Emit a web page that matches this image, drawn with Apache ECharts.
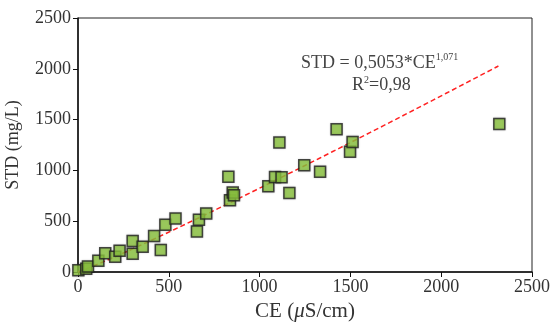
<!DOCTYPE html>
<html>
<head>
<meta charset="utf-8">
<script src="https://cdn.jsdelivr.net/npm/echarts@6/dist/echarts.min.js"></script>
<style>
  html, body { margin: 0; padding: 0; background: #fff; }
  #chart { width: 551px; height: 322px; }
</style>
</head>
<body>
<div id="chart"></div>
<script>
var ce = [2, 45, 55, 112, 150, 205, 229, 301, 301, 356, 419, 456, 481, 537, 655, 666, 706,
          828, 837, 852, 859, 1048, 1085, 1121, 1109, 1164, 1246, 1333, 1424, 1498, 1512, 2320];
var std = [18, 32, 55, 110, 184, 151, 210, 180, 306, 249, 354, 217, 465, 527, 398, 515, 577,
           938, 705, 782, 755, 843, 935, 932, 1275, 778, 1051, 987, 1404, 1184, 1280, 1457];

var xTicks = [0, 500, 1000, 1500, 2000, 2500];
var yTicks = [0, 500, 1000, 1500, 2000, 2500];

// fitted power law printed on the chart
var coefA = 0.5053;
var coefB = 1.071;
var fitFrom = 0;
var fitTo = 2315;

var fitLine = [];
for (var v = fitFrom; v <= fitTo; v += 35) {
    fitLine.push([v, coefA * Math.pow(v, coefB)]);
}
fitLine.push([fitTo, coefA * Math.pow(fitTo, coefB)]);

var font = 'Liberation Serif';
var txt = '#333';
var plain = function (val) { return String(val); };

var chart = echarts.init(document.getElementById('chart'));

chart.setOption({
    animation: false,
    grid: {
        left: 78, right: 19, top: 18, bottom: 50,
        outerBoundsMode: 'none',
        containLabel: false,
        show: true, borderColor: '#222', borderWidth: 1
    },
    xAxis: {
        type: 'value',
        min: xTicks[0], max: xTicks[xTicks.length - 1], interval: 500,
        name: '{n|CE (}{i|μ}{n|S/cm)}',
        nameLocation: 'middle',
        nameGap: 25,
        nameTextStyle: {
            rich: {
                n: { fontFamily: font, fontSize: 21, color: txt },
                i: { fontFamily: font, fontSize: 21, fontStyle: 'italic', color: txt }
            }
        },
        splitLine: { show: false },
        axisLine: { lineStyle: { color: '#111', width: 1.5 } },
        axisTick: { length: 5, lineStyle: { color: '#111' } },
        axisLabel: { fontFamily: font, fontSize: 18, color: txt, margin: 6, formatter: plain }
    },
    yAxis: {
        type: 'value',
        min: yTicks[0], max: yTicks[yTicks.length - 1], interval: 500,
        name: 'STD (mg/L)',
        nameLocation: 'middle',
        nameGap: 56,
        nameTextStyle: { fontFamily: font, fontSize: 18, color: txt },
        splitLine: { show: false },
        axisLine: { lineStyle: { color: '#111', width: 1.5 } },
        axisTick: { length: 5, lineStyle: { color: '#111' } },
        axisLabel: { fontFamily: font, fontSize: 18, color: txt, margin: 7, formatter: plain }
    },
    series: [{
        type: 'line',
        data: fitLine,
        showSymbol: false,
        symbol: 'none',
        z: 1,
        lineStyle: { color: '#f22', width: 1.5, type: [5, 3] }
    }, {
        type: 'scatter',
        data: ce.map(function (c, i) { return [c, std[i]]; }),
        symbol: 'rect',
        symbolSize: 11,
        z: 2,
        itemStyle: {
            color: '#8cc63f',
            borderColor: '#222',
            borderWidth: 1.5,
            shadowColor: 'rgba(0,0,0,0.25)',
            shadowBlur: 2
        }
    }],
    graphic: [{
        type: 'text',
        left: 301,
        top: 52,
        style: {
            text: '{m|STD = 0,5053*CE}{s|1,071}',
            rich: {
                m: { fontFamily: font, fontSize: 18, fill: '#444', verticalAlign: 'bottom' },
                s: { fontFamily: font, fontSize: 10, fill: '#444', verticalAlign: 'top', padding: [0, 0, 10, 0] }
            }
        }
    }, {
        type: 'text',
        left: 352,
        top: 75,
        style: {
            text: '{m|R}{s|2}{m|=0,98}',
            rich: {
                m: { fontFamily: font, fontSize: 18, fill: '#444' },
                s: { fontFamily: font, fontSize: 10, fill: '#444', padding: [0, 0, 10, 0] }
            }
        }
    }]
});
</script>
</body>
</html>
